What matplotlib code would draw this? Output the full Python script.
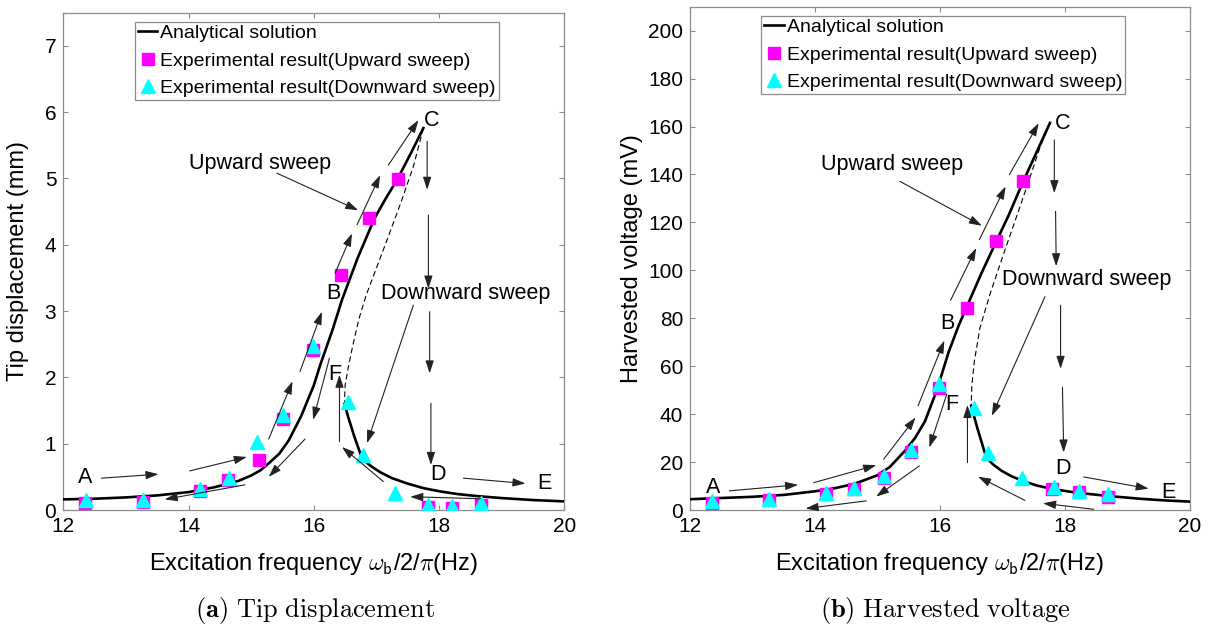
import matplotlib
matplotlib.use("Agg")
import matplotlib.pyplot as plt

plt.rcParams["font.family"] = ["Liberation Sans", "DejaVu Sans"]
plt.rcParams["mathtext.fontset"] = "cm"

# ---------------- (a) tip displacement (mm) ----------------
disp_up_f = [12.35, 13.28, 14.18, 14.63, 15.12, 15.51, 15.98, 16.43, 16.88, 17.34, 17.82, 18.21, 18.67]
disp_up_v = [0.10, 0.12, 0.28, 0.46, 0.76, 1.38, 2.42, 3.54, 4.40, 4.99, 0.04, 0.03, 0.08]

disp_down_f = [12.36, 13.28, 14.18, 14.64, 15.10, 15.51, 15.99, 16.55, 16.78, 17.30, 17.83, 18.20, 18.67]
disp_down_v = [0.15, 0.15, 0.31, 0.49, 1.02, 1.43, 2.47, 1.63, 0.83, 0.25, 0.075, 0.06, 0.10]

disp_upper_f = [12.0, 12.5, 13.0, 13.5, 14.0, 14.4, 14.8, 15.0, 15.15, 15.3, 15.45, 15.6, 15.8,
                16.0, 16.1, 16.2, 16.3, 16.45, 16.7, 16.97, 17.15, 17.33, 17.55, 17.75]
disp_upper_v = [0.16, 0.17, 0.19, 0.22, 0.27, 0.34, 0.44, 0.52, 0.60, 0.72, 0.85, 1.05, 1.42,
                1.88, 2.18, 2.45, 2.72, 3.17, 3.80, 4.40, 4.70, 4.98, 5.38, 5.76]
disp_unstable_f = [17.75, 17.59, 17.4, 17.2, 17.0, 16.84, 16.72, 16.62, 16.55, 16.5, 16.49]
disp_unstable_v = [5.76, 5.18, 4.66, 4.15, 3.65, 3.25, 2.88, 2.47, 2.15, 1.88, 1.60]
disp_lower_f = [16.49, 16.55, 16.65, 16.77, 16.9, 17.06, 17.25, 17.49, 17.75, 18.02, 18.3, 18.6, 19.0, 19.5, 20.0]
disp_lower_v = [1.60, 1.40, 1.10, 0.78, 0.67, 0.57, 0.48, 0.40, 0.33, 0.28, 0.24, 0.21, 0.18, 0.15, 0.13]

disp_arrows = [
    ((12.61, 0.48), (13.52, 0.54)), ((14.02, 0.59), (14.93, 0.80)),
    ((15.28, 1.07), (15.66, 1.94)), ((15.78, 2.09), (16.13, 2.99)),
    ((16.34, 3.57), (16.61, 4.17)), ((16.69, 4.30), (17.06, 5.05)),
    ((17.19, 5.20), (17.67, 5.88)), ((15.41, 5.08), (16.71, 4.52)),
    ((17.81, 5.56), (17.81, 4.83)), ((17.83, 4.45), (17.83, 3.34)),
    ((17.85, 2.99), (17.85, 2.06)), ((17.87, 1.61), (17.87, 0.68)),
    ((17.59, 3.09), (16.85, 1.01)), ((16.41, 1.03), (16.41, 2.04)),
    ((16.25, 2.29), (15.99, 1.36)), ((15.86, 1.07), (15.28, 0.50)),
    ((14.90, 0.38), (13.62, 0.16)), ((17.11, 0.43), (16.45, 0.95)),
    ((18.66, 0.17), (17.54, 0.20)), ((18.39, 0.48), (19.38, 0.40)),
]
disp_points = {"A": (12.35, 0.49), "B": (16.31, 3.27), "C": (17.88, 5.88),
               "D": (17.99, 0.54), "E": (19.68, 0.40), "F": (16.33, 2.04)}
disp_sweep_text = {"Upward sweep": (14.0, 5.23), "Downward sweep": (17.08, 3.27)}

# ---------------- (b) harvested voltage (mV) ----------------
volt_up_f = [12.35, 13.27, 14.18, 14.62, 15.10, 15.53, 15.98, 16.43, 16.89, 17.33, 17.80, 18.22, 18.69]
volt_up_v = [3.1, 4.0, 6.6, 8.6, 13.2, 24.0, 51.0, 84.2, 112.1, 137.1, 8.7, 7.5, 5.6]

volt_down_f = [12.35, 13.27, 14.18, 14.62, 15.10, 15.53, 15.98, 16.55, 16.77, 17.32, 17.82, 18.22, 18.69]
volt_down_v = [3.8, 4.7, 7.3, 9.3, 14.2, 25.1, 52.6, 42.4, 23.7, 13.5, 9.8, 7.9, 6.8]

volt_upper_f = [12.0, 12.5, 13.0, 13.5, 14.0, 14.3, 14.63, 15.0, 15.2, 15.45, 15.6, 15.76, 15.95,
                16.14, 16.3, 16.45, 16.65, 16.9, 17.1, 17.33, 17.55, 17.76]
volt_upper_v = [4.5, 5.0, 5.5, 6.3, 7.8, 9.0, 10.9, 14.5, 18.0, 25.0, 30.0, 37.0, 50.0,
                66.0, 77.0, 86.0, 98.0, 112.0, 123.0, 137.0, 149.5, 161.5]
volt_unstable_f = [17.76, 17.61, 17.3, 17.02, 16.8, 16.64, 16.55, 16.51, 16.5]
volt_unstable_v = [161.5, 152.0, 128.0, 107.0, 90.0, 76.0, 62.0, 52.0, 43.5]
volt_lower_f = [16.5, 16.6, 16.74, 16.85, 16.99, 17.15, 17.33, 17.55, 17.83, 18.2, 18.71, 19.2, 19.6, 20.0]
volt_lower_v = [43.5, 34.0, 22.0, 19.0, 16.3, 14.0, 12.1, 10.2, 8.6, 7.2, 5.8, 4.7, 4.0, 3.5]

volt_arrows = [
    ((12.63, 8.0), (13.73, 10.5)), ((13.98, 11.4), (14.98, 18.7)),
    ((15.10, 21.2), (15.61, 38.6)), ((15.65, 43.5), (16.07, 70.7)),
    ((16.17, 87.5), (16.58, 109.3)), ((16.63, 112.8), (17.05, 135.0)),
    ((17.11, 139.9), (17.58, 161.4)), ((15.36, 137.1), (16.67, 118.6)),
    ((17.83, 154.4), (17.83, 132.2)), ((17.85, 124.6), (17.86, 101.7)),
    ((17.93, 85.4), (17.93, 58.9)), ((17.96, 51.2), (17.98, 24.0)),
    ((17.68, 89.0), (16.83, 39.3)), ((16.44, 19.8), (16.44, 43.8)),
    ((16.11, 48.4), (15.83, 26.1)), ((15.67, 18.4), (14.98, 5.6)),
    ((14.82, 3.8), (13.85, 0.6)), ((17.36, 4.0), (16.61, 13.9)),
    ((18.46, 0.3), (17.65, 2.8)), ((18.30, 13.8), (19.34, 8.9)),
]
volt_points = {"A": (12.37, 9.3), "B": (16.12, 78.0), "C": (17.96, 161.3),
               "D": (17.97, 17.4), "E": (19.65, 7.4), "F": (16.19, 44.2)}
volt_sweep_text = {"Upward sweep": (14.1, 144.0), "Downward sweep": (17.0, 96.0)}

SPINE = "#8c8c8c"


def draw_panel(ax, up_f, up_v, down_f, down_v, upper, unstable, lower,
               arrows, points, sweep_text, ylim, yticks, ylabel, ylabel_x):
    ax.plot(upper[0], upper[1], color="k", lw=1.9, label="Analytical solution", zorder=3)
    ax.plot(lower[0], lower[1], color="k", lw=1.9, zorder=3)
    ax.plot(unstable[0], unstable[1], color="k", lw=0.8, ls=(0, (5, 3)), zorder=3)
    ax.plot(up_f, up_v, ls="none", marker="s", ms=8.5, color="#ff00ff", mec="#ff00ff",
            label="Experimental result(Upward sweep)", zorder=4)
    ax.plot(down_f, down_v, ls="none", marker="^", ms=10.5, color="#00ffff", mec="#00ffff",
            label="Experimental result(Downward sweep)", zorder=5)

    for start, end in arrows:
        ax.annotate("", xy=end, xytext=start,
                    arrowprops=dict(arrowstyle="-|>,head_length=0.55,head_width=0.18",
                                    color="#222222", lw=0.8, shrinkA=0, shrinkB=0,
                                    mutation_scale=14), zorder=6)
    for name, (x, y) in points.items():
        ax.text(x, y, name, fontsize=15.5, ha="center", va="center", zorder=7)
    for name, (x, y) in sweep_text.items():
        ax.text(x, y, name, fontsize=15.5, ha="left", va="center", zorder=7)

    ax.set_xlim(12, 20)
    ax.set_xticks([12, 14, 16, 18, 20])
    ax.set_ylim(*ylim)
    ax.set_yticks(yticks)
    ax.tick_params(direction="in", length=3.6, width=0.8, colors=SPINE, labelcolor="k",
                   labelsize=15, top=True, right=True, pad=5)
    for sp in ax.spines.values():
        sp.set_color(SPINE)
        sp.set_linewidth(0.9)

    ax.set_xlabel(r"Excitation frequency $\omega_{\mathsf{b}}$/2/$\pi$(Hz)", fontsize=17)
    ax.xaxis.set_label_coords(0.5, -0.082)
    ax.set_ylabel(ylabel, fontsize=17)
    ax.yaxis.set_label_coords(ylabel_x, 0.5)

    leg = ax.legend(loc="upper left", bbox_to_anchor=(0.143, 0.982), borderaxespad=0,
                    fontsize=14, numpoints=1, handlelength=1.0, handletextpad=0.15,
                    labelspacing=0.5, borderpad=0.15, fancybox=False, framealpha=1)
    leg.get_frame().set_edgecolor(SPINE)
    leg.get_frame().set_linewidth(0.9)


fig = plt.figure(figsize=(12.13, 6.26), dpi=100)
ax1 = fig.add_axes([0.0522, 0.1853, 0.4130, 0.7944])
ax2 = fig.add_axes([0.5688, 0.1853, 0.4122, 0.8040])

draw_panel(ax1, disp_up_f, disp_up_v, disp_down_f, disp_down_v,
           (disp_upper_f, disp_upper_v), (disp_unstable_f, disp_unstable_v),
           (disp_lower_f, disp_lower_v), disp_arrows, disp_points, disp_sweep_text,
           (0, 7.5), range(0, 8), "Tip displacement (mm)", -0.068)
draw_panel(ax2, volt_up_f, volt_up_v, volt_down_f, volt_down_v,
           (volt_upper_f, volt_upper_v), (volt_unstable_f, volt_unstable_v),
           (volt_lower_f, volt_lower_v), volt_arrows, volt_points, volt_sweep_text,
           (0, 210), range(0, 201, 20), "Harvested voltage (mV)", -0.094)

fig.text(0.260, 0.024, r"$\mathbf{(a)}\ \mathrm{Tip\ displacement}$", fontsize=19,
         ha="center", va="center")
fig.text(0.779, 0.024, r"$\mathbf{(b)}\ \mathrm{Harvested\ voltage}$", fontsize=19,
         ha="center", va="center")

fig.savefig("out.png", dpi=100)
